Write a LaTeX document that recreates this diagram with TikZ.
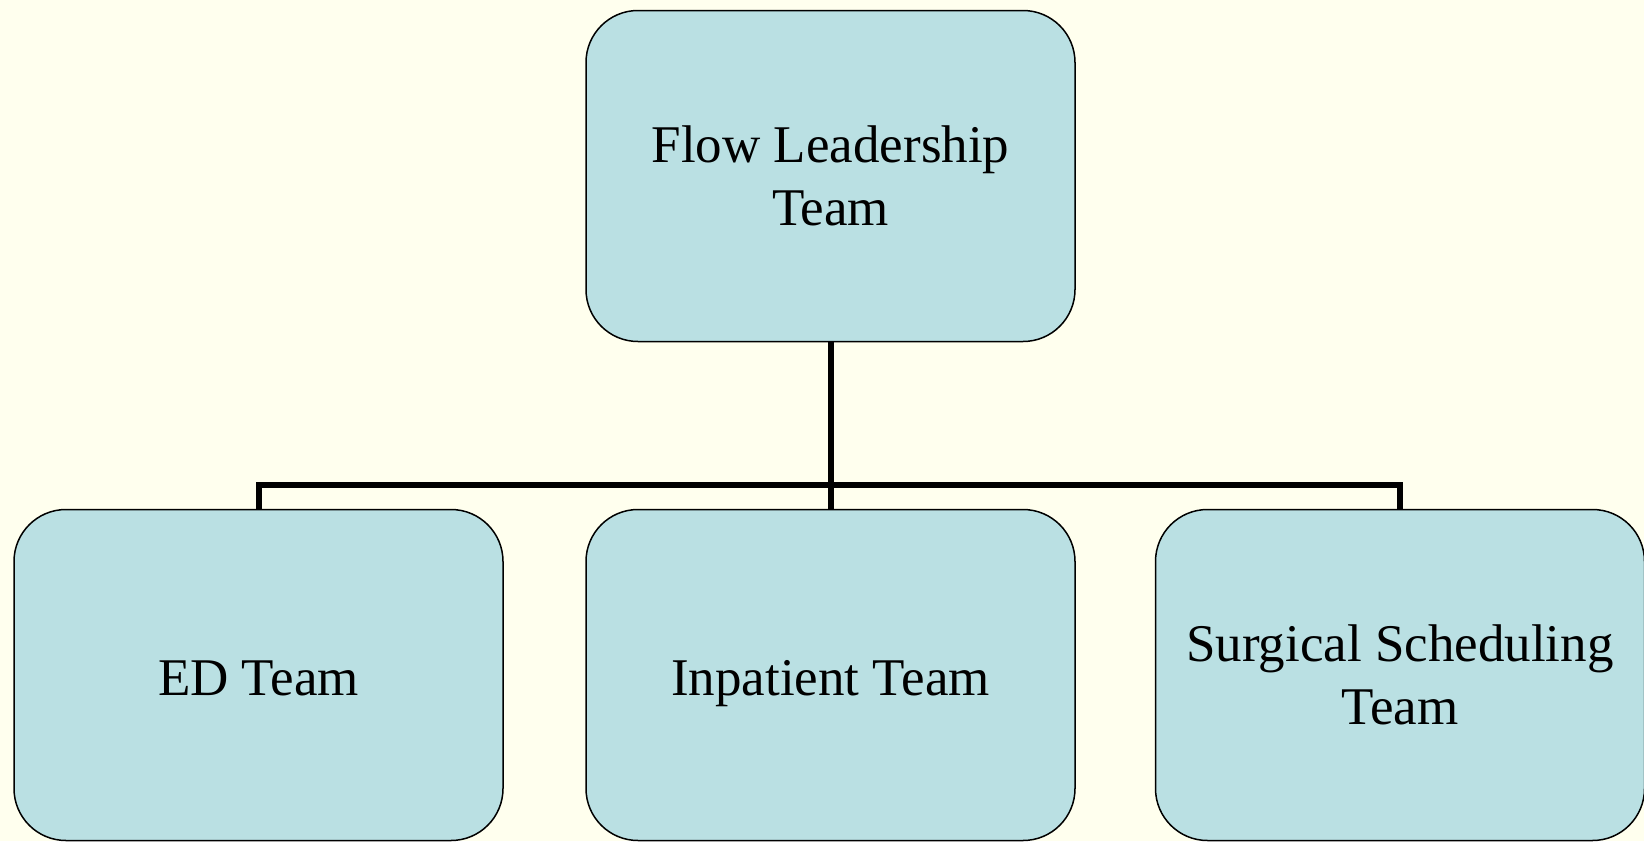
\documentclass[tikz,border=0pt]{standalone}
\usepackage{fontspec}
\setmainfont{Liberation Serif}
\definecolor{bg}{HTML}{FFFFEE}
\definecolor{boxfill}{HTML}{BAE0E3}
\begin{document}
\begin{tikzpicture}[x=1pt,y=-1pt,
  team/.style={draw=black, line width=1.5pt, fill=boxfill, rounded corners=52pt,
    minimum width=489pt, minimum height=331pt, align=center, inner sep=0pt,
    font=\fontsize{53}{63}\selectfont},
  oneline/.style={text height=40pt, text depth=0pt},
  conn/.style={draw=black, line width=6pt}]
\fill[bg] (0,0) rectangle (1644,841);
\useasboundingbox (0,0) rectangle (1644,841);
\node[team] (top) at (830.5,176) {Flow Leadership\\Team};
\node[team, oneline] (ed) at (258.5,675) {ED Team};
\node[team, oneline] (inp) at (830.5,675) {Inpatient Team};
\node[team] (surg) at (1400,675) {Surgical Scheduling\\Team};
\coordinate (mid) at (830.5,485);
\draw[conn] (top.south) -- (mid);
\draw[conn] (mid) -- (inp.north);
\draw[conn] (ed.north) |- (mid) -| (surg.north);
\end{tikzpicture}
\end{document}
